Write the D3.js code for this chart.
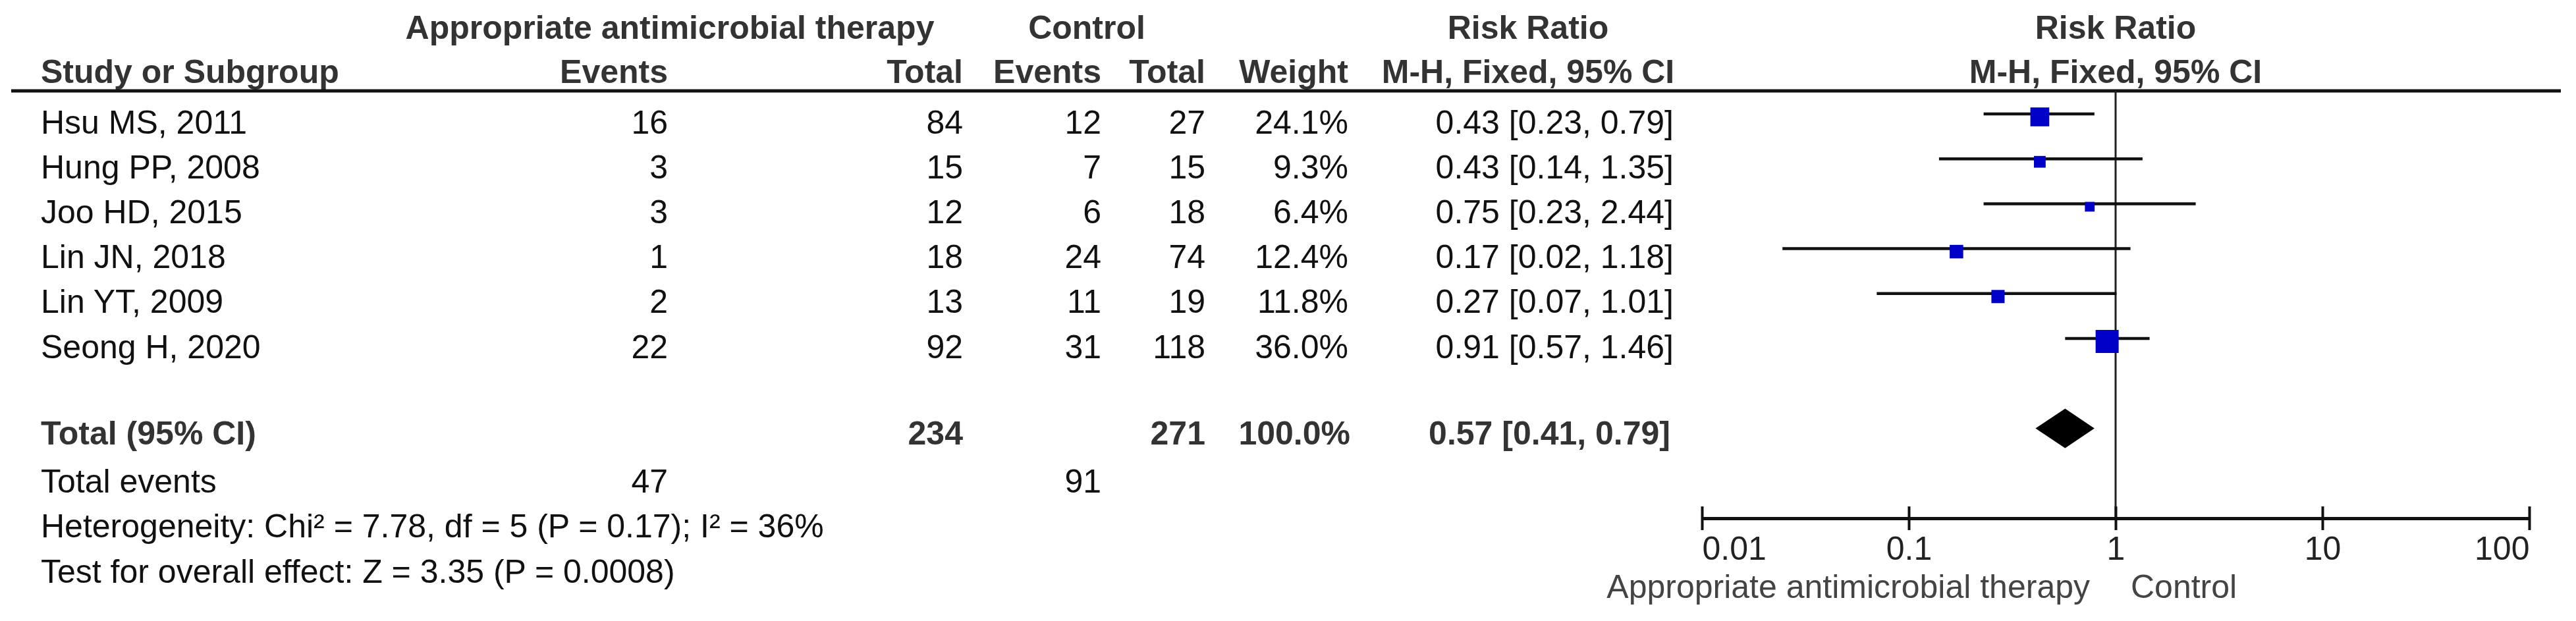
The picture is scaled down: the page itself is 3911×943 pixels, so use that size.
<!DOCTYPE html>
<html>
<head>
<meta charset="utf-8">
<script src="https://cdn.jsdelivr.net/npm/d3@7"></script>
<style>
  html, body { margin: 0; padding: 0; background: #fff; }
  text { font-family: "Liberation Sans", Arial, sans-serif; font-size: 50px; }
</style>
</head>
<body>
<div id="chart"></div>
<script>
// study data
const studies = ['Hsu MS, 2011', 'Hung PP, 2008', 'Joo HD, 2015', 'Lin JN, 2018', 'Lin YT, 2009', 'Seong H, 2020'];
const expEvents = [16, 3, 3, 1, 2, 22];
const expTotal = [84, 15, 12, 18, 13, 92];
const ctrlEvents = [12, 7, 6, 24, 11, 31];
const ctrlTotal = [27, 15, 18, 74, 19, 118];
const weights = [24.1, 9.3, 6.4, 12.4, 11.8, 36.0];
const rr = [0.43, 0.43, 0.75, 0.17, 0.27, 0.91];
const ciLow = [0.23, 0.14, 0.23, 0.0245, 0.07, 0.57];
const ciHigh = [0.79, 1.35, 2.44, 1.18, 1.01, 1.46];

// pooled
const totalExp = 234;
const totalCtrl = 271;
const totalWeight = 100.0;
const pooled = [0.57, 0.41, 0.79];
const totalEvents = [47, 91];
const heterogeneity = 'Heterogeneity: Chi² = 7.78, df = 5 (P = 0.17); I² = 36%';
const overall = 'Test for overall effect: Z = 3.35 (P = 0.0008)';

const axisTicks = [0.01, 0.1, 1, 10, 100];
const favours = ['Appropriate antimicrobial therapy', 'Control'];

const width = 3911, height = 943;
const f2 = d3.format('.2f');
const f1 = d3.format('.1f');

const svg = d3.select('#chart').append('svg')
  .attr('width', width)
  .attr('height', height);
svg.append('rect').attr('width', width).attr('height', height).attr('fill', '#fff');

// column anchors (right edges)
const col = { name: 62, expE: 1014, expT: 1462, ctlE: 1672, ctlT: 1830, wt: 2047, rr: 2541 };

const x = d3.scaleLog().domain([0.01, 100]).range([2584, 3840]);
const y = d3.scaleLinear().domain([0, 1]).range([173, 241.2]);
const size = d3.scaleSqrt().domain([0, 36]).range([0, 35]);
const base = 29.5;

function txt(g, xx, yy, s, anchor, bold, color) {
  return g.append('text')
    .attr('x', xx).attr('y', yy)
    .attr('text-anchor', anchor || 'start')
    .attr('font-weight', bold ? 'bold' : 'normal')
    .attr('fill', color || '#111')
    .text(s);
}

// headers
const hd = svg.append('g');
const H1 = 59, H2 = 126;
txt(hd, 1017, H1, 'Appropriate antimicrobial therapy', 'middle', true, '#333');
txt(hd, 1650, H1, 'Control', 'middle', true, '#333');
txt(hd, 2320, H1, 'Risk Ratio', 'middle', true, '#333');
txt(hd, x(1), H1, 'Risk Ratio', 'middle', true, '#333');
txt(hd, col.name, H2, 'Study or Subgroup', 'start', true, '#333');
txt(hd, col.expE, H2, 'Events', 'end', true, '#333');
txt(hd, col.expT, H2, 'Total', 'end', true, '#333');
txt(hd, col.ctlE, H2, 'Events', 'end', true, '#333');
txt(hd, col.ctlT, H2, 'Total', 'end', true, '#333');
txt(hd, col.wt, H2, 'Weight', 'end', true, '#333');
txt(hd, 2320, H2, 'M-H, Fixed, 95% CI', 'middle', true, '#333');
txt(hd, x(1), H2, 'M-H, Fixed, 95% CI', 'middle', true, '#333');

svg.append('line')
  .attr('x1', 17).attr('x2', 3888)
  .attr('y1', 138).attr('y2', 138)
  .attr('stroke', '#111').attr('stroke-width', 5);

// study rows
const rows = svg.append('g');
studies.forEach((s, i) => {
  const yy = y(i) + base;
  txt(rows, col.name, yy, s);
  txt(rows, col.expE, yy, expEvents[i], 'end');
  txt(rows, col.expT, yy, expTotal[i], 'end');
  txt(rows, col.ctlE, yy, ctrlEvents[i], 'end');
  txt(rows, col.ctlT, yy, ctrlTotal[i], 'end');
  txt(rows, col.wt, yy, f1(weights[i]) + '%', 'end');
  txt(rows, col.rr, yy, `${f2(rr[i])} [${f2(ciLow[i])}, ${f2(ciHigh[i])}]`, 'end');
});

// total row
const TY = 675;
txt(rows, col.name, TY, 'Total (95% CI)', 'start', true, '#333');
txt(rows, col.expT, TY, totalExp, 'end', true, '#333');
txt(rows, col.ctlT, TY, totalCtrl, 'end', true, '#333');
txt(rows, col.wt + 3, TY, f1(totalWeight) + '%', 'end', true, '#333');
txt(rows, col.rr - 5, TY, `${f2(pooled[0])} [${f2(pooled[1])}, ${f2(pooled[2])}]`, 'end', true, '#333');

txt(rows, col.name, y(8) + base, 'Total events');
txt(rows, col.expE, y(8) + base, totalEvents[0], 'end');
txt(rows, col.ctlE, y(8) + base, totalEvents[1], 'end');
txt(rows, col.name, y(9) + base, heterogeneity);
txt(rows, col.name, y(10) + base, overall);

// forest plot
const plot = svg.append('g');
const axisY = 787;

plot.append('line')
  .attr('x1', x(1)).attr('x2', x(1))
  .attr('y1', 138).attr('y2', axisY)
  .attr('stroke', '#222').attr('stroke-width', 3);

plot.selectAll('line.ci')
  .data(studies)
  .join('line')
  .attr('class', 'ci')
  .attr('x1', (d, i) => x(ciLow[i]))
  .attr('x2', (d, i) => x(ciHigh[i]))
  .attr('y1', (d, i) => y(i))
  .attr('y2', (d, i) => y(i))
  .attr('stroke', '#111').attr('stroke-width', 4.5);

plot.selectAll('rect.sq')
  .data(studies)
  .join('rect')
  .attr('class', 'sq')
  .attr('x', (d, i) => x(rr[i]) - size(weights[i]) / 2)
  .attr('y', (d, i) => y(i) + 4.5 - size(weights[i]) / 2)
  .attr('width', (d, i) => size(weights[i]))
  .attr('height', (d, i) => size(weights[i]))
  .attr('fill', '#0000c8');

const dy = y(7);
plot.append('path')
  .attr('d', `M${x(pooled[1])},${dy} L${x(pooled[0])},${dy - 30} L${x(pooled[2])},${dy} L${x(pooled[0])},${dy + 30} Z`)
  .attr('fill', '#000');

// axis
const axis = d3.axisBottom(x)
  .tickValues(axisTicks)
  .tickFormat(d3.format('~g'))
  .tickSizeOuter(0)
  .tickSizeInner(18);

const ax = plot.append('g')
  .attr('transform', `translate(0,${axisY})`)
  .call(axis);
ax.select('.domain').attr('stroke', '#111').attr('stroke-width', 5);
ax.selectAll('.tick line').attr('y1', -18).attr('y2', 18).attr('stroke', '#111').attr('stroke-width', 4);
ax.selectAll('.tick text')
  .attr('y', 63).attr('dy', 0)
  .attr('font-size', 50)
  .attr('font-family', '"Liberation Sans", Arial, sans-serif')
  .attr('fill', '#222')
  .attr('text-anchor', (d, i) => i === 0 ? 'start' : (i === axisTicks.length - 1 ? 'end' : 'middle'));

txt(plot, 3173, 908, favours[0], 'end', false, '#444');
txt(plot, 3235, 908, favours[1], 'start', false, '#444');
</script>
</body>
</html>
